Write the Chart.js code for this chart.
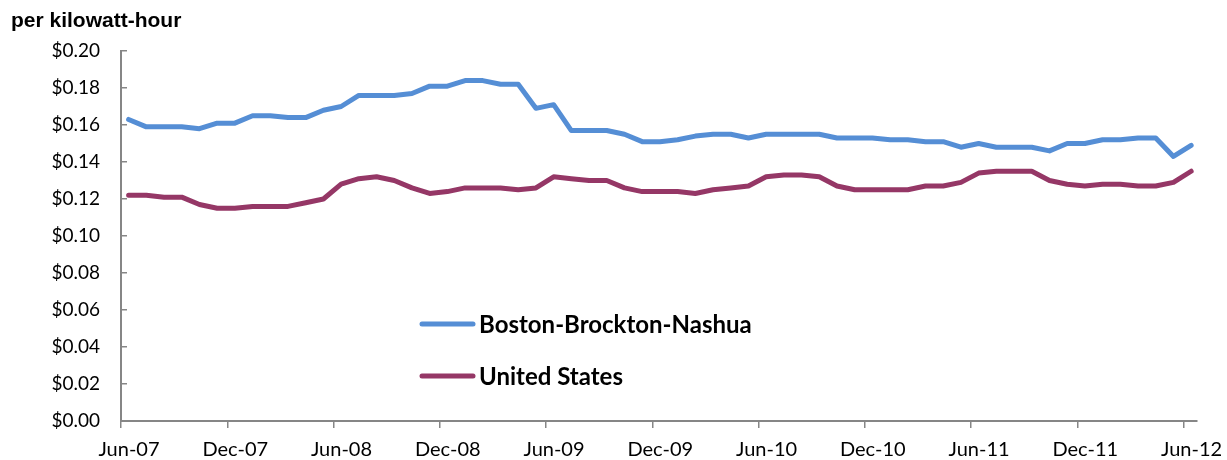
<!DOCTYPE html>
<html><head><meta charset="utf-8">
<script src="https://cdn.jsdelivr.net/npm/chart.js@4/dist/chart.umd.min.js"></script>
<style>html,body{margin:0;padding:0;background:#fff}#wrap{width:1227px;height:460px;position:relative}</style>
</head><body><div id="wrap"><canvas id="c" width="1227" height="460"></canvas></div>
<script>
const months = [
 'Jun-07','Jul-07','Aug-07','Sep-07','Oct-07','Nov-07','Dec-07','Jan-08','Feb-08','Mar-08','Apr-08','May-08',
 'Jun-08','Jul-08','Aug-08','Sep-08','Oct-08','Nov-08','Dec-08','Jan-09','Feb-09','Mar-09','Apr-09','May-09',
 'Jun-09','Jul-09','Aug-09','Sep-09','Oct-09','Nov-09','Dec-09','Jan-10','Feb-10','Mar-10','Apr-10','May-10',
 'Jun-10','Jul-10','Aug-10','Sep-10','Oct-10','Nov-10','Dec-10','Jan-11','Feb-11','Mar-11','Apr-11','May-11',
 'Jun-11','Jul-11','Aug-11','Sep-11','Oct-11','Nov-11','Dec-11','Jan-12','Feb-12','Mar-12','Apr-12','May-12',
 'Jun-12'];
const tickLabels = ['Jun-07','Dec-07','Jun-08','Dec-08','Jun-09','Dec-09','Jun-10','Dec-10','Jun-11','Dec-11','Jun-12'];
const bostonValues = [0.163,0.159,0.159,0.159,0.158,0.161,0.161,0.165,0.165,0.164,0.164,0.168,
 0.170,0.176,0.176,0.176,0.177,0.181,0.181,0.184,0.184,0.182,0.182,0.169,
 0.171,0.157,0.157,0.157,0.155,0.151,0.151,0.152,0.154,0.155,0.155,0.153,
 0.155,0.155,0.155,0.155,0.153,0.153,0.153,0.152,0.152,0.151,0.151,0.148,
 0.150,0.148,0.148,0.148,0.146,0.150,0.150,0.152,0.152,0.153,0.153,0.143,0.149];
const usValues = [0.122,0.122,0.121,0.121,0.117,0.115,0.115,0.116,0.116,0.116,0.118,0.120,
 0.128,0.131,0.132,0.130,0.126,0.123,0.124,0.126,0.126,0.126,0.125,0.126,
 0.132,0.131,0.130,0.130,0.126,0.124,0.124,0.124,0.123,0.125,0.126,0.127,
 0.132,0.133,0.133,0.132,0.127,0.125,0.125,0.125,0.125,0.127,0.127,0.129,
 0.134,0.135,0.135,0.135,0.130,0.128,0.127,0.128,0.128,0.127,0.127,0.129,0.135];
const yTickValues = [0,0.02,0.04,0.06,0.08,0.10,0.12,0.14,0.16,0.18,0.20];
const seriesNames = ['Boston-Brockton-Nashua','United States'];
const seriesColors = ['#558ed5','#953766'];
const unitLabel = 'per kilowatt-hour';

const toPoints = vals => vals.map((v, i) => ({x: i, y: v, m: months[i]}));
const axisColor = '#868686';
const X_SHIFT = 0.43;

const overlayPlugin = {
  id: 'overlay',
  afterDraw(chart) {
    const ctx = chart.ctx;
    ctx.save();
    ctx.fillStyle = '#000';
    ctx.font = 'bold 21px "Liberation Sans", Arial, sans-serif';
    ctx.textAlign = 'left';
    ctx.textBaseline = 'alphabetic';
    ctx.fillText(unitLabel, 11, 26.5);
    const ys = [324, 376];
    chart.data.datasets.forEach((ds, i) => {
      ctx.strokeStyle = ds.borderColor;
      ctx.lineWidth = 5;
      ctx.lineCap = 'round';
      ctx.beginPath();
      ctx.moveTo(422, ys[i]);
      ctx.lineTo(473, ys[i]);
      ctx.stroke();
      ctx.fillStyle = '#000';
      ctx.font = 'bold 24px Lato, "Liberation Sans", sans-serif';
      ctx.textBaseline = 'middle';
      ctx.fillText(ds.label, 479, ys[i] + 1);
    });
    ctx.restore();
  }
};

new Chart(document.getElementById('c'), {
  type: 'line',
  data: {
    datasets: [
      {label: seriesNames[0], data: toPoints(bostonValues), borderColor: seriesColors[0], backgroundColor: seriesColors[0],
       borderWidth: 5, pointRadius: 0, tension: 0, borderJoinStyle: 'round', borderCapStyle: 'round', fill: false},
      {label: seriesNames[1], data: toPoints(usValues), borderColor: seriesColors[1], backgroundColor: seriesColors[1],
       borderWidth: 5, pointRadius: 0, tension: 0, borderJoinStyle: 'round', borderCapStyle: 'round', fill: false}
    ]
  },
  options: {
    responsive: false,
    devicePixelRatio: 1,
    animation: false,
    layout: {padding: {top: 51, right: 30, bottom: 0, left: 0}},
    plugins: {legend: {display: false}, tooltip: {enabled: false}, title: {display: false}},
    scales: {
      x: {
        type: 'linear',
        min: -X_SHIFT,
        max: 60.33,
        afterBuildTicks: s => { s.ticks = tickLabels.map((_, k) => ({value: k * 6 - X_SHIFT})); },
        afterFit: s => { s.height = 39; },
        ticks: {
          autoSkip: false, maxRotation: 0, minRotation: 0, padding: 10, labelOffset: 8,
          color: '#000', font: {family: 'Lato, "Liberation Sans", sans-serif', size: 20},
          callback: (v, i) => tickLabels[i]
        },
        grid: {drawOnChartArea: false, drawTicks: true, tickLength: 7, color: axisColor, lineWidth: 1.5},
        border: {display: true, color: axisColor, width: 2}
      },
      y: {
        type: 'linear',
        min: 0, max: 0.2,
        afterBuildTicks: s => { s.ticks = yTickValues.map(v => ({value: v})); },
        afterFit: s => { s.width = 121; },
        ticks: {
          padding: 27, color: '#000', font: {family: 'Lato, "Liberation Sans", sans-serif', size: 19},
          callback: v => '$' + Number(v).toFixed(2)
        },
        grid: {drawOnChartArea: false, drawTicks: true, tickLength: -6, color: axisColor, lineWidth: 1.5},
        border: {display: true, color: axisColor, width: 2}
      }
    }
  },
  plugins: [overlayPlugin]
});
</script>
</body></html>
